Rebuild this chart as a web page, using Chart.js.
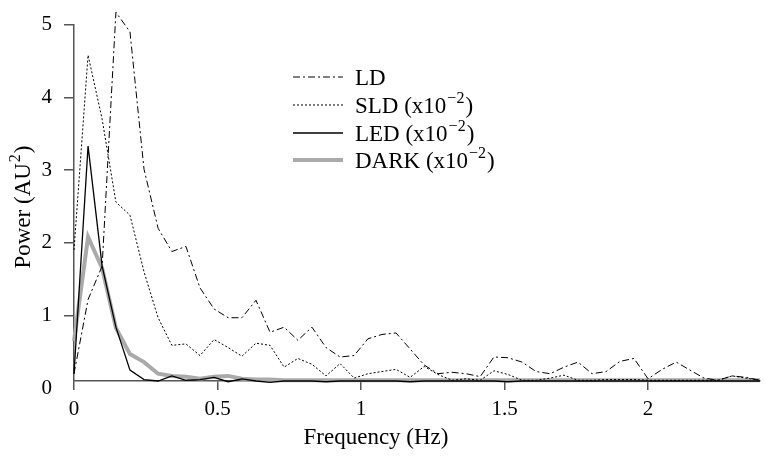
<!DOCTYPE html>
<html>
<head>
<meta charset="utf-8">
<script src="https://cdn.jsdelivr.net/npm/chart.js@4"></script>
<style>body{margin:0;background:#fff}</style>
</head>
<body>
<canvas id="myGraph" width="765" height="462"></canvas>
<script>
// spectra
var freqs = [0, 0.049, 0.098, 0.146, 0.195, 0.244, 0.293, 0.341, 0.390, 0.439,
  0.488, 0.537, 0.585, 0.634, 0.683, 0.732, 0.780, 0.829, 0.878, 0.927,
  0.976, 1.024, 1.073, 1.122, 1.171, 1.220, 1.268, 1.317, 1.366, 1.415,
  1.463, 1.512, 1.561, 1.610, 1.659, 1.707, 1.756, 1.805, 1.854, 1.902,
  1.951, 2.000, 2.049, 2.098, 2.146, 2.195, 2.244, 2.293, 2.341, 2.390];

var ldPower = [0.2, 1.22, 1.68, 5.17, 4.90, 3.01, 2.20, 1.88, 1.95, 1.38,
  1.09, 0.97, 0.97, 1.21, 0.77, 0.84, 0.66, 0.84, 0.56, 0.43,
  0.45, 0.68, 0.74, 0.76, 0.54, 0.32, 0.20, 0.22, 0.20, 0.16,
  0.43, 0.42, 0.36, 0.23, 0.20, 0.29, 0.36, 0.20, 0.23, 0.37,
  0.41, 0.13, 0.26, 0.36, 0.25, 0.14, 0.11, 0.17, 0.15, 0.11];

var sldPower = [1.9, 4.58, 3.7, 2.56, 2.38, 1.6, 0.97, 0.59, 0.61, 0.45,
  0.67, 0.56, 0.44, 0.62, 0.59, 0.29, 0.41, 0.33, 0.17, 0.34,
  0.14, 0.20, 0.23, 0.26, 0.15, 0.30, 0.19, 0.11, 0.13, 0.11,
  0.24, 0.19, 0.11, 0.11, 0.14, 0.18, 0.11, 0.11, 0.12, 0.12,
  0.12, 0.11, 0.11, 0.11, 0.11, 0.11, 0.11, 0.17, 0.14, 0.11];

var ledPower = [0.2, 3.33, 1.68, 0.84, 0.25, 0.12, 0.10, 0.17, 0.11, 0.12,
  0.15, 0.09, 0.13, 0.10, 0.08, 0.10, 0.10, 0.10, 0.09, 0.10,
  0.10, 0.10, 0.10, 0.10, 0.09, 0.10, 0.10, 0.10, 0.10, 0.10,
  0.10, 0.09, 0.10, 0.10, 0.10, 0.10, 0.10, 0.10, 0.10, 0.10,
  0.10, 0.10, 0.10, 0.10, 0.10, 0.10, 0.10, 0.10, 0.10, 0.10];

var darkPower = [0.65, 2.08, 1.65, 0.83, 0.47, 0.36, 0.20, 0.17, 0.16, 0.13,
  0.16, 0.17, 0.13, 0.12, 0.12, 0.11, 0.11, 0.11, 0.11, 0.11,
  0.11, 0.11, 0.11, 0.11, 0.11, 0.11, 0.11, 0.11, 0.11, 0.11,
  0.11, 0.11, 0.11, 0.11, 0.11, 0.11, 0.11, 0.11, 0.11, 0.11,
  0.11, 0.11, 0.11, 0.11, 0.11, 0.11, 0.11, 0.11, 0.11, 0.11];

var seriesNames = ["LD", "SLD", "LED", "DARK"];
var scaledNote = [false, true, true, true];
var xTicks = [0, 0.5, 1, 1.5, 2];
var yTicks = [0, 1, 2, 3, 4, 5];
var xTitle = "Frequency (Hz)";
var yTitle = ["Power (AU", "2", ")"];

var serif = "'Liberation Serif', 'Times New Roman', serif";
var axisFont = { family: serif, size: 21 };

function toPoints(values) {
  return values.map((v, i) => ({ x: freqs[i], y: v }));
}

// text with a raised part in the middle, drawn from x
function supText(ctx, parts, x, y, size, supSize) {
  ctx.font = size + "px " + serif;
  ctx.fillText(parts[0], x, y);
  x += ctx.measureText(parts[0]).width + 1;
  ctx.font = supSize + "px " + serif;
  ctx.fillText(parts[1], x, y - 10);
  x += ctx.measureText(parts[1]).width + 1;
  ctx.font = size + "px " + serif;
  ctx.fillText(parts[2], x, y);
}

function supWidth(ctx, parts, size, supSize) {
  ctx.font = size + "px " + serif;
  var w = ctx.measureText(parts[0]).width + ctx.measureText(parts[2]).width + 2;
  ctx.font = supSize + "px " + serif;
  return w + ctx.measureText(parts[1]).width;
}

// legend + axis titles drawn by hand
var legendLines = {
  id: "legendLines",
  afterDraw: function(chart) {
    var ctx = chart.ctx;
    var rows = [77, 105, 133, 160];
    ctx.save();
    ctx.fillStyle = "#000";
    ctx.textBaseline = "alphabetic";
    ctx.textAlign = "left";
    chart.data.datasets.forEach(function(ds, i) {
      var ly = rows[i];
      ctx.beginPath();
      ctx.setLineDash(ds.borderDash || []);
      ctx.lineWidth = ds.borderWidth;
      ctx.strokeStyle = ds.borderColor;
      ctx.moveTo(293, ly);
      ctx.lineTo(343, ly);
      ctx.stroke();
      ctx.setLineDash([]);
      if (scaledNote[i]) {
        supText(ctx, [seriesNames[i] + " (x10", "\u22122", ")"], 355, ly + 8, 23, 16);
      } else {
        ctx.font = "23px " + serif;
        ctx.fillText(seriesNames[i], 355, ly + 8);
      }
    });

    ctx.font = "23px " + serif;
    ctx.textAlign = "center";
    ctx.textBaseline = "middle";
    ctx.fillText(xTitle, 376, 438);

    ctx.translate(22, 207);
    ctx.rotate(-Math.PI / 2);
    ctx.textAlign = "left";
    ctx.textBaseline = "alphabetic";
    var w = supWidth(ctx, yTitle, 23, 16);
    supText(ctx, yTitle, -w / 2, 8, 23, 16);
    ctx.restore();
  }
};

var graph = document.getElementById("myGraph").getContext("2d");

new Chart(graph, {
  type: "line",
  data: {
    datasets: [
      {
        label: seriesNames[0],
        data: toPoints(ldPower),
        borderColor: "#000",
        borderWidth: 1,
        borderDash: [7, 3, 2, 3],
        clip: false
      },
      {
        label: seriesNames[1],
        data: toPoints(sldPower),
        borderColor: "#000",
        borderWidth: 1,
        borderDash: [2, 2],
        clip: false
      },
      {
        label: seriesNames[2],
        data: toPoints(ledPower),
        borderColor: "#000",
        borderWidth: 1.3,
        clip: false
      },
      {
        label: seriesNames[3],
        data: toPoints(darkPower),
        borderColor: "#aaaaaa",
        borderWidth: 4,
        clip: false
      }
    ]
  },
  options: {
    responsive: false,
    animation: false,
    layout: { padding: { top: 21, right: 5, bottom: 0, left: 0 } },
    elements: {
      point: { radius: 0 },
      line: { tension: 0, fill: false }
    },
    plugins: {
      legend: { display: false },
      tooltip: { enabled: false }
    },
    scales: {
      x: {
        type: "linear",
        min: 0,
        max: 2.39,
        afterBuildTicks: function(scale) {
          scale.ticks = xTicks.map(v => ({ value: v }));
        },
        afterFit: function(scale) { scale.height = 81; },
        grid: { drawOnChartArea: false, tickLength: 9, color: "#555", lineWidth: 1.5 },
        border: { color: "#555", width: 1.5 },
        ticks: {
          font: axisFont,
          color: "#000",
          padding: 7,
          maxRotation: 0,
          callback: function(value) { return String(value); }
        }
      },
      y: {
        min: 0.1,
        max: 5,
        afterBuildTicks: function(scale) {
          scale.ticks = yTicks.map(v => ({ value: v }));
        },
        afterFit: function(scale) { scale.width = 74; },
        grid: {
          drawOnChartArea: false,
          tickLength: 10,
          lineWidth: 1.5,
          color: function(c) {
            return c.tick && c.tick.value === 0 ? "rgba(0,0,0,0)" : "#555";
          }
        },
        border: { color: "#555", width: 1.5 },
        ticks: {
          font: axisFont,
          color: "#000",
          padding: 12,
          callback: function(value) { return String(value); }
        }
      }
    }
  },
  plugins: [legendLines]
});
</script>
</body>
</html>
